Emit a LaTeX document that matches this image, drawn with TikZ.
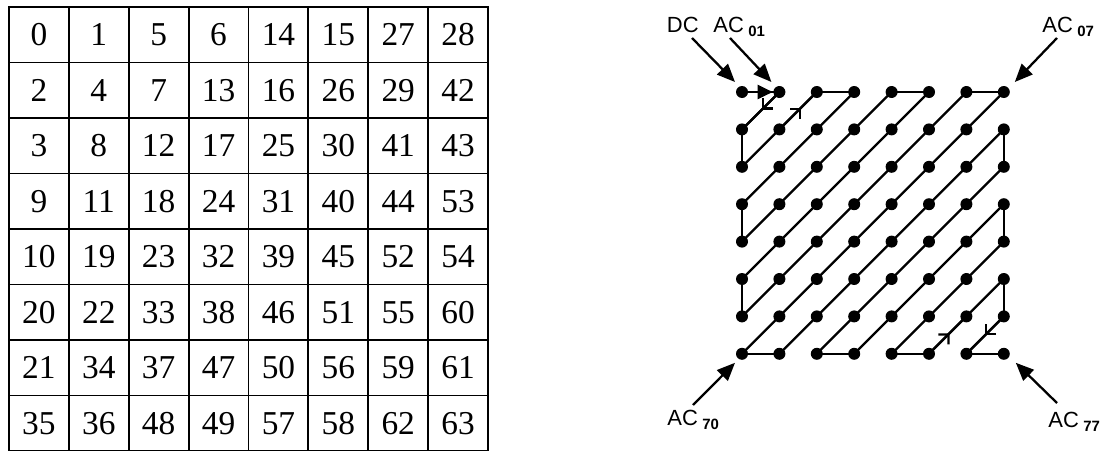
\documentclass[tikz,border=0pt]{standalone}
\usepackage{fontspec}
\setmainfont{Liberation Serif}
\setsansfont{Liberation Sans}
\usetikzlibrary{arrows.meta, decorations.markings}

\newcommand{\acsub}[1]{AC\hspace{2.5pt}\raisebox{-2.8pt}{\fontsize{8.5}{9}\selectfont\bfseries #1}}

\begin{document}
\begin{tikzpicture}[x=0.02cm, y=-0.02cm,
        cell/.style={draw, line width=1pt, minimum width=1.1975cm, minimum height=1.11cm, inner sep=0pt, font=\fontsize{19}{22}\selectfont},
        dot/.style={circle, fill, inner sep=0pt, minimum size=0.24cm},
        zig/.style={line width=1.3pt},
        lbl/.style={inner sep=0pt, font=\fontsize{12.5}{14}\selectfont\sffamily},
        lblarr/.style={line width=1.3pt, -{Triangle[length=3.6mm, width=3mm]}},
        tipat/.style 2 args={postaction={decorate}, decoration={markings, mark=at position #1 with {\arrow{#2}}}},
        barb/.style={tipat={#1}{Straight Barb[length=4pt, width=8pt]}}
      ]
        \useasboundingbox (0,0) rectangle (1106,450);
        \foreach \row [count=\r from 0] in {{0,1,5,6,14,15,27,28}, {2,4,7,13,16,26,29,42},
            {3,8,12,17,25,30,41,43}, {9,11,18,24,31,40,44,53}, {10,19,23,32,39,45,52,54},
            {20,22,33,38,46,51,55,60}, {21,34,37,47,50,56,59,61}, {35,36,48,49,57,58,62,63}} {
          \foreach \v [count=\c from 0] in \row {
            \node[cell] (n\v) at (38.94+59.875*\c, 34.75+55.5*\r) {\v};
            \node[dot] (z\v) at (742+37.4*\c, 92+37.4*\r) {};
          }
        }
        \foreach \n [remember=\n as \p (initially 0)] in {1,...,63}
          \draw[zig] (z\p.center) -- (z\n.center);
        \draw[zig, tipat={0.82}{Triangle[length=3mm, width=2.8mm]}] (z0.center) -- (z1.center);
        \draw[zig, barb=0.47] (z1.center) -- (z2.center);
        \draw[zig, barb=0.58] (z4.center) -- (z5.center);
        \draw[zig, barb=0.55] (z58.center) -- (z59.center);
        \draw[zig, barb=0.5] (z61.center) -- (z62.center);
        \node[lbl, anchor=base east] (dc) at (699,32) {DC};
        \node[lbl, anchor=base west] (ac01) at (713,32) {\acsub{01}};
        \node[lbl, anchor=base west] (ac07) at (1042,32) {\acsub{07}};
        \node[lbl, anchor=base west] (ac70) at (667,425) {\acsub{70}};
        \node[lbl, anchor=base west] (ac77) at (1048,427) {\acsub{77}};
        \draw[lblarr] ([shift={(-7,6)}]dc.base east) -- ([shift={(-7,-10)}]z0.center);
        \draw[lblarr] ([shift={(17,6)}]ac01.base west) -- ([shift={(-8,-10)}]z1.center);
        \draw[lblarr] ([shift={(15,6)}]ac07.base west) -- ([shift={(11,-10)}]z28.center);
        \draw[lblarr] ([shift={(26,-20)}]ac70.base west) -- ([shift={(-7,9)}]z35.center);
        \draw[lblarr] ([shift={(9,-24)}]ac77.base west) -- ([shift={(12,9)}]z63.center);
      \end{tikzpicture}
\end{document}
